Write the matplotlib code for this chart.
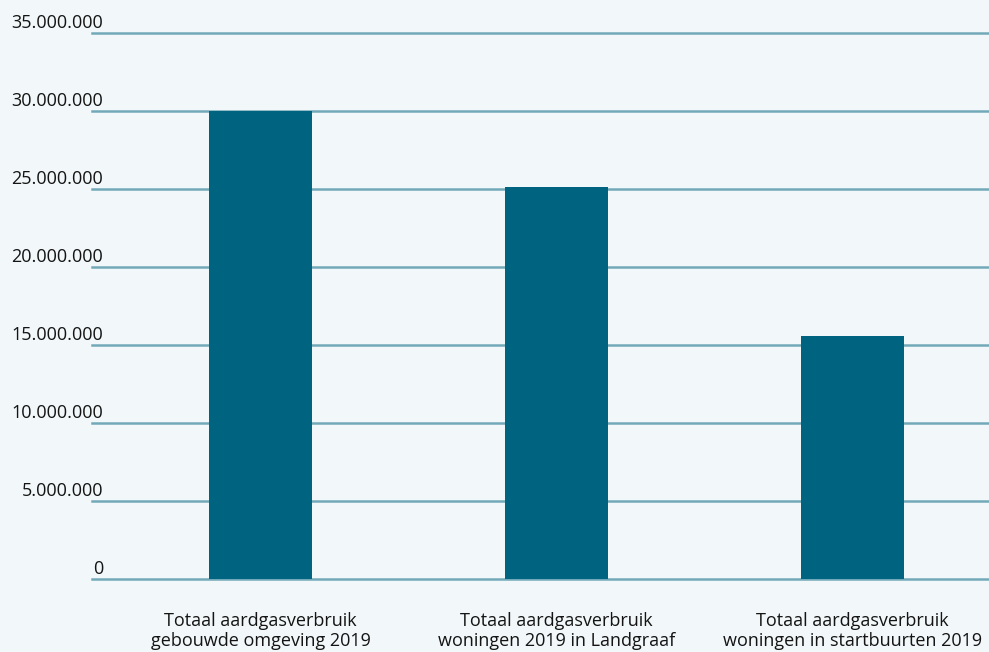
import matplotlib
matplotlib.use('Agg')
import matplotlib.pyplot as plt
import matplotlib.transforms as mtransforms

plt.rcParams['font.family'] = ['Open Sans', 'DejaVu Sans']

categories = ['Totaal aardgasverbruik\ngebouwde omgeving 2019',
              'Totaal aardgasverbruik\nwoningen 2019 in Landgraaf',
              'Totaal aardgasverbruik\nwoningen in startbuurten 2019']
values = [30000000, 25130000, 15580000]
yticks = [0, 5000000, 10000000, 15000000, 20000000, 25000000, 30000000, 35000000]

bg = '#f2f7f9'
bar_color = '#00637f'
grid_color = '#72a9b9'
text_color = '#141414'

W, H = 989, 652
fig = plt.figure(figsize=(W / 100, H / 100), dpi=100, facecolor=bg)
ax = fig.add_axes([92 / W, (H - 579) / H, (W - 92) / W, (579 - 33) / H])
ax.set_facecolor(bg)

x = range(len(categories))
ax.bar(x, values, width=0.348, color=bar_color, zorder=3)

ax.set_xlim(-0.569, 2.461)
ax.set_ylim(0, 35000000)
ax.set_yticks(yticks)
ax.set_yticklabels([f'{v:,.0f}'.replace(',', '.') for v in yticks])
ax.set_xticks(list(x))
ax.set_xticklabels(categories, linespacing=1.12)

ax.grid(axis='y', color=grid_color, linewidth=1.8, zorder=0)
for gl in ax.get_ygridlines():
    gl.set_clip_on(False)
ax.set_axisbelow(True)
for s in ax.spines.values():
    s.set_visible(False)

ax.tick_params(axis='both', length=0, labelsize=13, labelcolor=text_color)
ax.tick_params(axis='y', pad=-8)
ax.tick_params(axis='x', pad=24)

off = mtransforms.ScaledTranslation(0, 5 / 100, fig.dpi_scale_trans)
for lab in ax.get_yticklabels():
    lab.set_verticalalignment('baseline')
    lab.set_transform(lab.get_transform() + off)

fig.savefig('out.png', dpi=100, facecolor=bg)
